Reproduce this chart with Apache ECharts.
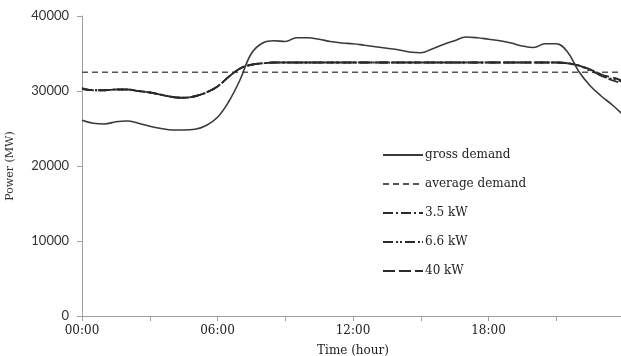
<!DOCTYPE html>
<html>
<head>
<meta charset="utf-8">
<script src="https://cdn.jsdelivr.net/npm/echarts@6/dist/echarts.min.js"></script>
<style>
  html, body { margin: 0; padding: 0; background: #fff; }
  #chart { width: 621px; height: 356px; }
</style>
</head>
<body>
<div id="chart"></div>
<script>
// time of day in hours
const hours = [
  0, 0.5, 1, 1.5, 2, 2.5, 3, 3.5, 4, 4.5, 5, 5.5, 6, 6.5, 7, 7.5, 8, 8.5, 9, 9.5,
  10, 10.5, 11, 11.5, 12, 12.5, 13, 13.5, 14, 14.5, 15, 15.5, 16, 16.5, 17, 17.5,
  18, 18.5, 19, 19.5, 20, 20.5, 21, 21.5, 22, 22.5, 23, 23.5, 24
];

const grossDemand = [
  26100, 25700, 25600, 25900, 26000, 25700, 25300, 25000, 24800, 24800, 24900, 25400,
  26500, 28600, 31500, 35000, 36400, 36700, 36600, 37100, 37100, 36900, 36600, 36400,
  36300, 36100, 35900, 35700, 35500, 35200, 35100, 35600, 36200, 36700, 37200, 37100,
  36900, 36700, 36400, 36000, 35800, 36300, 36300, 35200, 32600, 30700, 29300, 28100, 26700
];

const averageDemand = 32500;

const ev35 = [
  30300, 30100, 30100, 30200, 30200, 30000, 29800, 29500, 29200, 29100, 29300, 29800,
  30600, 31900, 33000, 33500, 33700, 33800, 33800, 33800, 33800, 33800, 33800, 33800,
  33800, 33800, 33800, 33800, 33800, 33800, 33800, 33800, 33800, 33800, 33800, 33800,
  33800, 33800, 33800, 33800, 33800, 33800, 33800, 33700, 33400, 32700, 32100, 31400, 31000
];

const ev66 = [
  30300, 30100, 30100, 30200, 30200, 30000, 29800, 29500, 29200, 29100, 29300, 29800,
  30600, 31900, 33000, 33500, 33700, 33800, 33800, 33800, 33800, 33800, 33800, 33800,
  33800, 33800, 33800, 33800, 33800, 33800, 33800, 33800, 33800, 33800, 33800, 33800,
  33800, 33800, 33800, 33800, 33800, 33800, 33800, 33700, 33400, 32800, 32000, 31600, 31200
];

const ev40 = [
  30400, 30100, 30100, 30200, 30200, 30000, 29800, 29500, 29200, 29100, 29300, 29800,
  30600, 31900, 33000, 33500, 33700, 33800, 33800, 33800, 33800, 33800, 33800, 33800,
  33800, 33800, 33800, 33800, 33800, 33800, 33800, 33800, 33800, 33800, 33800, 33800,
  33800, 33800, 33800, 33800, 33800, 33800, 33800, 33700, 33400, 32900, 32200, 31800, 31300
];

const xTickLabels = { 0: "00:00", 6: "06:00", 12: "12:00", 18: "18:00" };
const yTicks = [0, 10000, 20000, 30000, 40000];

const pairs = (vals) => hours.map((h, i) => [h, vals[i]]);

const chart = echarts.init(document.getElementById("chart"));

const serif = "DejaVu Serif";

const option = {
  animation: false,
  color: ["#3a3a3a", "#555", "#2a2a2a", "#2a2a2a", "#2a2a2a"],
  grid: {
    left: 82,
    right: -3,
    top: 16,
    bottom: 40,
    containLabel: false,
    outerBoundsMode: "none",
  },
  legend: {
    orient: "vertical",
    left: 377,
    top: 144,
    itemWidth: 40,
    itemHeight: 14,
    itemGap: 17,
    itemStyle: { opacity: 0 },
    textStyle: {
      fontFamily: serif,
      fontSize: 12,
      color: "#222",
      padding: [0, 0, 0, -3],
    },
    data: ["gross demand", "average demand", "3.5 kW", "6.6 kW", "40 kW"],
  },
  xAxis: {
    type: "value",
    min: 0,
    max: 24,
    interval: 3,
    name: "Time (hour)",
    nameLocation: "middle",
    nameGap: 29,
    nameTextStyle: { fontFamily: serif, fontSize: 12, color: "#222" },
    axisLine: { lineStyle: { color: "#a0a0a0" } },
    axisTick: { length: 5, lineStyle: { color: "#a0a0a0" } },
    splitLine: { show: false },
    axisLabel: {
      fontFamily: serif,
      fontSize: 12,
      color: "#222",
      margin: 9,
      showMaxLabel: false,
      formatter: (v) => xTickLabels[v] || "",
    },
  },
  yAxis: {
    type: "value",
    min: yTicks[0],
    max: yTicks[yTicks.length - 1],
    interval: 10000,
    name: "Power (MW)",
    nameLocation: "middle",
    nameGap: 66,
    nameTextStyle: { fontFamily: serif, fontSize: 11, color: "#333" },
    axisLine: { show: true, lineStyle: { color: "#a0a0a0" } },
    axisTick: { show: true, length: 5, lineStyle: { color: "#a0a0a0" } },
    splitLine: { show: false },
    axisLabel: {
      fontFamily: "Lato",
      fontSize: 13,
      color: "#333",
      margin: 13,
      formatter: (v) => String(v),
    },
  },
  series: [
    {
      name: "gross demand",
      type: "line",
      data: pairs(grossDemand),
      smooth: 0.4,
      symbol: "none",
      lineStyle: { color: "#3a3a3a", width: 1.6 },
      z: 5,
    },
    {
      name: "average demand",
      type: "line",
      data: [[0, averageDemand], [24, averageDemand]],
      symbol: "none",
      lineStyle: { color: "#555", width: 1.6, type: [6, 4] },
    },
    {
      name: "3.5 kW",
      type: "line",
      data: pairs(ev35),
      smooth: 0.4,
      symbol: "none",
      lineStyle: { color: "#2a2a2a", width: 1.8, type: [10, 3, 2, 3] },
    },
    {
      name: "6.6 kW",
      type: "line",
      data: pairs(ev66),
      smooth: 0.4,
      symbol: "none",
      lineStyle: { color: "#2a2a2a", width: 1.8, type: [10, 3, 2, 2, 2, 3] },
    },
    {
      name: "40 kW",
      type: "line",
      data: pairs(ev40),
      smooth: 0.4,
      symbol: "none",
      lineStyle: { color: "#2a2a2a", width: 1.8, type: [12, 4] },
    },
  ],
};

chart.setOption(option);
window.addEventListener("resize", () => chart.resize());
</script>
</body>
</html>
